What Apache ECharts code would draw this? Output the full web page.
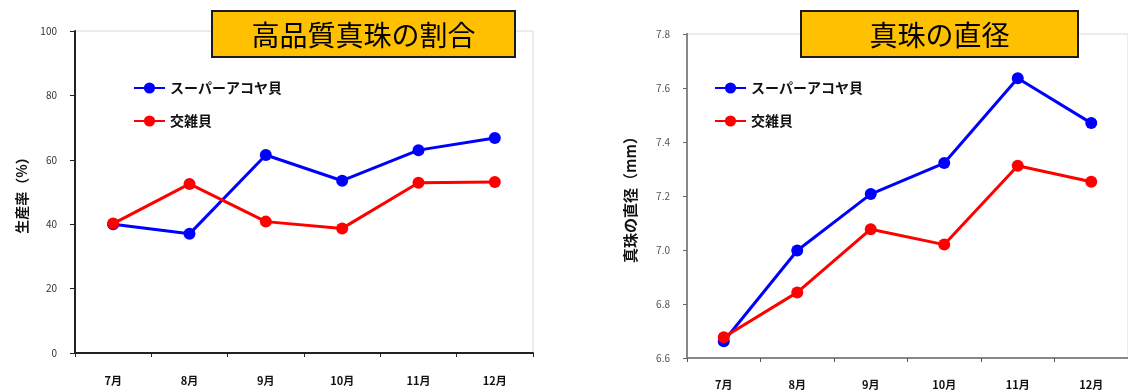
<!DOCTYPE html>
<html>
<head>
<meta charset="utf-8">
<script src="https://cdn.jsdelivr.net/npm/echarts@6/dist/echarts.min.js"></script>
<style>
  html, body { margin: 0; padding: 0; background: #fff; }
  #chart { width: 1128px; height: 392px; }
</style>
</head>
<body>
<div id="chart"></div>
<script>
// Months shared by both panels
const months = ['7月', '8月', '9月', '10月', '11月', '12月'];

// Panel 1: share of high-quality pearls (%)
const rateSuper = [40, 37, 61.5, 53.5, 63, 66.8];
const rateHybrid = [40.2, 52.5, 40.8, 38.7, 52.9, 53.1];

// Panel 2: pearl diameter (mm)
const diaSuper = [6.662, 6.998, 7.207, 7.322, 7.636, 7.47];
const diaHybrid = [6.677, 6.843, 7.077, 7.02, 7.312, 7.253];

const seriesNames = ['スーパーアコヤ貝', '交雑貝'];
const panelTitles = ['高品質真珠の割合', '真珠の直径'];
const axisNames = ['生産率（%）', '真珠の直径（mm）'];

const FONT = '"Noto Sans CJK JP", "Noto Sans", sans-serif';
const BLUE = '#0000ff';
const RED = '#ff0000';

function lineSeries(name, data, idx, color) {
  return {
    name: name,
    type: 'line',
    xAxisIndex: idx,
    yAxisIndex: idx,
    data: data,
    symbol: 'circle',
    symbolSize: 12,
    lineStyle: { color: color, width: 3 },
    itemStyle: { color: color },
    emphasis: { disabled: true },
    animation: false
  };
}

function titleBox(x, y, w, h, text) {
  return {
    type: 'group',
    left: x,
    top: y,
    children: [
      {
        type: 'rect',
        shape: { x: 0, y: 0, width: w, height: h },
        style: { fill: '#ffc000', stroke: '#1a1a1a', lineWidth: 2 }
      },
      {
        type: 'text',
        x: w / 2,
        y: h / 2 + 1,
        style: {
          text: text,
          fill: '#000',
          font: 'normal 28px ' + FONT,
          align: 'center',
          verticalAlign: 'middle'
        }
      }
    ]
  };
}

function legendAt(left) {
  return {
    orient: 'vertical',
    left: left,
    top: 76,
    itemWidth: 31,
    itemHeight: 14,
    itemGap: 19,
    data: seriesNames,
    selectedMode: false,
    textStyle: { fontSize: 14, fontWeight: 'bold', color: '#111', fontFamily: FONT }
  };
}

const chart = echarts.init(document.getElementById('chart'), null, { renderer: 'canvas' });

chart.setOption({
  backgroundColor: '#fff',
  textStyle: { fontFamily: FONT },
  grid: [
    { left: 75, top: 31, width: 458, height: 322, show: true, borderColor: '#d9d9d9', borderWidth: 1 },
    { left: 687, top: 34, width: 450, height: 324, show: true, borderColor: '#d9d9d9', borderWidth: 1 }
  ],
  legend: [legendAt(128), legendAt(709)],
  xAxis: [
    {
      type: 'category',
      gridIndex: 0,
      data: months,
      boundaryGap: true,
      axisLine: { lineStyle: { color: '#222', width: 2 } },
      axisTick: { show: true, length: 4, lineStyle: { color: '#222' } },
      axisLabel: { margin: 22, fontSize: 11, fontWeight: 'bold', color: '#111', fontFamily: FONT },
      splitLine: { show: false }
    },
    {
      type: 'category',
      gridIndex: 1,
      data: months,
      boundaryGap: true,
      axisLine: { lineStyle: { color: '#888', width: 2 } },
      axisTick: { show: true, length: 4, lineStyle: { color: '#555' } },
      axisLabel: { margin: 21, fontSize: 11, fontWeight: 'bold', color: '#111', fontFamily: FONT },
      splitLine: { show: false }
    }
  ],
  yAxis: [
    {
      type: 'value',
      gridIndex: 0,
      min: 0,
      max: 100,
      interval: 20,
      name: axisNames[0],
      nameLocation: 'middle',
      nameGap: 46,
      nameTextStyle: { fontSize: 14, fontWeight: 'bold', color: '#111', fontFamily: FONT },
      axisLine: { show: true, lineStyle: { color: '#222', width: 2 } },
      axisTick: { show: true, length: 5, lineStyle: { color: '#222' } },
      axisLabel: { margin: 18, fontSize: 10, color: '#333', fontFamily: FONT },
      splitLine: { show: false }
    },
    {
      type: 'value',
      gridIndex: 1,
      min: 6.6,
      max: 7.8,
      interval: 0.2,
      name: axisNames[1],
      nameLocation: 'middle',
      nameGap: 49,
      nameTextStyle: { fontSize: 15, fontWeight: 'bold', color: '#111', fontFamily: FONT },
      axisLine: { show: true, lineStyle: { color: '#888', width: 2 } },
      axisTick: { show: true, length: 4, lineStyle: { color: '#666' } },
      axisLabel: {
        margin: 17,
        fontSize: 10,
        color: '#555',
        fontFamily: FONT,
        formatter: function (v) { return v.toFixed(1); }
      },
      splitLine: { show: false }
    }
  ],
  series: [
    lineSeries(seriesNames[0], rateSuper, 0, BLUE),
    lineSeries(seriesNames[1], rateHybrid, 0, RED),
    lineSeries(seriesNames[0], diaSuper, 1, BLUE),
    lineSeries(seriesNames[1], diaHybrid, 1, RED)
  ],
  graphic: [
    titleBox(211, 10, 303, 46, panelTitles[0]),
    titleBox(800, 10, 277, 46, panelTitles[1])
  ],
  animation: false
});
</script>
</body>
</html>
